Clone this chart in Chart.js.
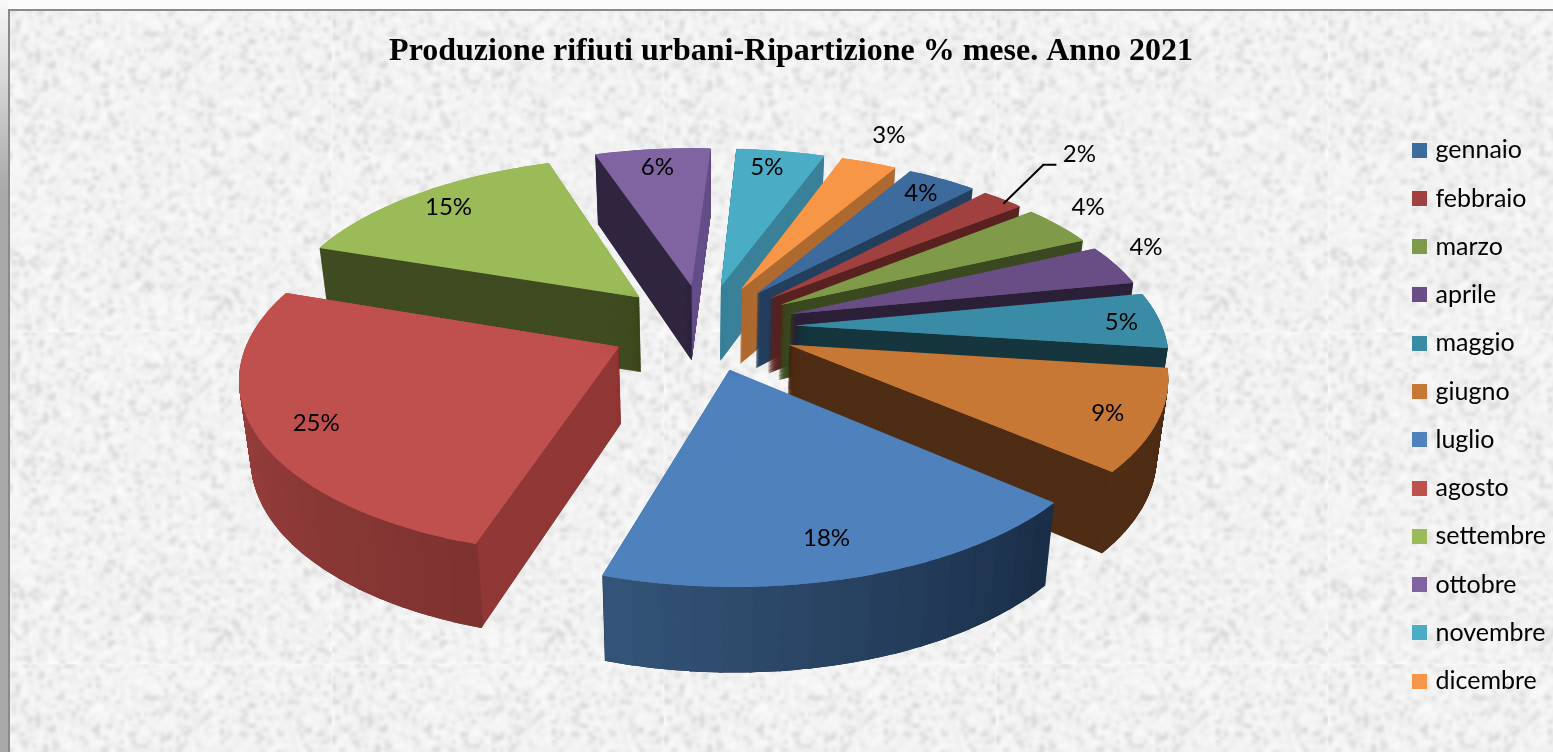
<!DOCTYPE html>
<html>
<head>
<meta charset="utf-8">
<title>Produzione rifiuti urbani</title>
<script src="https://cdn.jsdelivr.net/npm/chart.js@4/dist/chart.umd.min.js"></script>
<style>
html, body { margin: 0; padding: 0; width: 1553px; height: 752px; overflow: hidden; background: #fff; }
canvas { position: absolute; left: 0; top: 0; }
</style>
</head>
<body>
<canvas id="pie" width="1582" height="752"></canvas>
<script>
const mesi = ['gennaio', 'febbraio', 'marzo', 'aprile', 'maggio', 'giugno', 'luglio', 'agosto', 'settembre', 'ottobre', 'novembre', 'dicembre'];
const percentuali = [3.65, 2.22, 3.83, 3.8, 5.15, 9.25, 18.45, 25.45, 14.7, 6.0, 4.6, 2.9];

const topColors = ['#3E6B9D', '#A04140', '#7F9A48', '#694E85', '#3A8CA6', '#C87835', '#4F81BD', '#C0504D', '#9BBB59', '#8064A2', '#4BACC6', '#F79646'];
const wallColors = ['#25405F', '#5A2321', '#3C4A21', '#2D2139', '#17373F', '#502E16', '#1C304A', '#913836', '#404C22', '#312640', '#3A8199', '#AE6A30'];
// outer rim shading, start of the slice -> end of the slice
const rimStart = ['#25405F', '#5A2321', '#3C4A21', '#2D2139', '#17373F', '#502E16', '#1B2F49', '#7F3331', '#404C22', '#312640', '#3A8199', '#AE6A30'];
const rimEnd = ['#25405F', '#5A2321', '#3C4A21', '#2D2139', '#17373F', '#502E16', '#345478', '#A54744', '#404C22', '#312640', '#3A8199', '#AE6A30'];
const endWalls = [null, null, null, null, null, null, null, null, null, '#67508B', null, null];
// where each % label sits, measured from the tip of its slice
const labelOffsets = [[164, -100], [310, -144], [308, -98], [356, -67], [326, -3], [319, 69], [97, 169], [-303, 76], [-191, -90], [-34, -119], [46, -119], [148, -154]];

// fake 3D view of the exploded pie
const view = { cx: 703, cy: 327, rx: 367, ry: 170, persp: 0.151, explode: 0.252, depth: 76, shrink: 0.025 };
const DEG = Math.PI / 180;

function project(wx, wz, lev) {
    const f = 1 / (1 - view.persp * wz);
    const k = 1 - view.shrink * lev;
    return [view.cx + view.rx * wx * f * k, view.cy + view.ry * wz * f + view.depth * lev * (0.45 + 0.55 * f)];
}

// seeded speckle, only for the paper texture behind the chart
function makeTexture() {
    let seed = 20210;
    const rnd = () => { seed = (seed * 1664525 + 1013904223) % 4294967296; return seed / 4294967296; };
    const small = document.createElement('canvas');
    small.width = small.height = 83;
    const sctx = small.getContext('2d');
    const img = sctx.createImageData(83, 83);
    for (let i = 0; i < img.data.length; i += 4) {
        const r = rnd();
        const g = r > 0.84 ? 208 + rnd() * 24 : 236 + rnd() * 16;
        img.data[i] = img.data[i + 1] = img.data[i + 2] = g;
        img.data[i + 3] = 255;
    }
    sctx.putImageData(img, 0, 0);
    const tile = document.createElement('canvas');
    tile.width = tile.height = 332;
    const tctx = tile.getContext('2d');
    tctx.imageSmoothingEnabled = true;
    tctx.filter = 'blur(1.5px)';
    tctx.drawImage(small, 0, 0, 332, 332);
    return tile;
}

const paperPlugin = {
    id: 'paper',
    beforeDraw(chart) {
        const ctx = chart.ctx;
        ctx.save();
        ctx.fillStyle = '#FBFBFB';
        ctx.fillRect(0, 0, chart.width, chart.height);
        const strip = ctx.createLinearGradient(0, 0, 0, 190);
        strip.addColorStop(0, '#F8F8F8');
        strip.addColorStop(1, '#A9A9A9');
        ctx.fillStyle = strip;
        ctx.fillRect(0, 0, 8, chart.height);
        ctx.fillStyle = ctx.createPattern(makeTexture(), 'repeat');
        ctx.fillRect(10, 11, chart.width, chart.height);
        ctx.fillStyle = '#8A8A8A';
        ctx.fillRect(8, 9, chart.width, 2);
        ctx.fillRect(8, 9, 2, chart.height);
        ctx.restore();
    }
};

function paintPiece(ctx, arc, mid, a0, a1, lev, color, thin) {
    const r = arc.outerRadius;
    const ax = view.explode * Math.cos(mid), az = view.explode * Math.sin(mid);
    const q0 = project(ax, az, lev);
    const q1 = project(ax + Math.cos(a0), az + Math.sin(a0), lev);
    const q2 = project(ax + Math.cos(a1), az + Math.sin(a1), lev);
    // affine map that sends the flat wedge on to its projected triangle
    const ux = r * Math.cos(a0), uy = r * Math.sin(a0), vx = r * Math.cos(a1), vy = r * Math.sin(a1);
    const det = ux * vy - vx * uy;
    const px = q1[0] - q0[0], py = q1[1] - q0[1], sx = q2[0] - q0[0], sy = q2[1] - q0[1];
    const a = (px * vy - sx * uy) / det, c = (sx * ux - px * vx) / det;
    const b = (py * vy - sy * uy) / det, d = (sy * ux - py * vx) / det;
    ctx.save();
    ctx.transform(a, b, c, d, q0[0] - a * arc.x - c * arc.y, q0[1] - b * arc.x - d * arc.y);
    arc.startAngle = a0;
    arc.endAngle = a1;
    arc.circumference = a1 - a0;
    arc.innerRadius = thin ? r * 0.985 : 0;
    arc.options = Object.assign({}, arc.options, { backgroundColor: color });
    arc.draw(ctx);
    ctx.restore();
}

function mixColor(c1, c2, t) {
    const p = (c, i) => parseInt(c.substr(1 + i * 2, 2), 16);
    const out = [0, 1, 2].map(i => Math.round(p(c1, i) + (p(c2, i) - p(c1, i)) * t));
    return 'rgb(' + out.join(',') + ')';
}

function paintSlice(ctx, arc, i) {
    const start = arc.startAngle, end = arc.endAngle, saved = arc.options;
    const mid = (start + end) / 2;
    const n = Math.max(2, Math.ceil((end - start) / (4 * DEG)));
    const step = (end - start) / n, lap = 0.4 * DEG;
    const fan = (lev, colorAt, thin, shift) => {
        for (let p = 0; p < n; p++) {
            const a0 = start + (p + shift) * step;
            const a1 = Math.min(end, a0 + step + lap);
            if (a0 < end - 0.001) paintPiece(ctx, arc, mid, a0, a1, lev, colorAt(p / (n - 1)), thin);
        }
    };
    const wallLayers = 160, rimLayers = 60;
    for (let l = wallLayers; l > 0; l--) fan(l / wallLayers, () => wallColors[i], false, 0);
    for (let l = rimLayers; l > 0; l--) fan(l / rimLayers, t => mixColor(rimStart[i], rimEnd[i], t), true, 0);
    if (endWalls[i]) {
        for (let l = wallLayers; l > 0; l--) paintPiece(ctx, arc, mid, end - 0.6 * DEG, end, l / wallLayers, endWalls[i], false);
    }
    // second pass half a step along hides the seams of the first
    fan(0, () => topColors[i], false, 0);
    fan(0, () => topColors[i], false, 0.5);
    arc.startAngle = start;
    arc.endAngle = end;
    arc.circumference = end - start;
    arc.innerRadius = 0;
    arc.options = saved;
}

const pie3dPlugin = {
    id: 'pie3d',
    beforeDatasetDraw(chart, args) {
        const ctx = chart.ctx;
        const arcs = args.meta.data;
        const order = arcs.map((a, i) => i).sort((p, q) => {
            return Math.sin((arcs[p].startAngle + arcs[p].endAngle) / 2) - Math.sin((arcs[q].startAngle + arcs[q].endAngle) / 2);
        });
        order.forEach(i => paintSlice(ctx, arcs[i], i));
        return false;
    },
    afterDatasetsDraw(chart) {
        const ctx = chart.ctx;
        const arcs = chart.getDatasetMeta(0).data;
        ctx.save();
        ctx.font = '24px Lato, Carlito, sans-serif';
        ctx.fillStyle = '#000';
        ctx.textAlign = 'center';
        ctx.textBaseline = 'middle';
        arcs.forEach((arc, i) => {
            const mid = (arc.startAngle + arc.endAngle) / 2;
            const tip = project(view.explode * Math.cos(mid), view.explode * Math.sin(mid), 0);
            const x = tip[0] + labelOffsets[i][0], y = tip[1] + labelOffsets[i][1];
            ctx.fillText(Math.round(percentuali[i]) + '%', x, y);
            if (mesi[i] === 'febbraio') {
                ctx.strokeStyle = '#000';
                ctx.lineWidth = 2;
                ctx.beginPath();
                ctx.moveTo(x - 76, y + 49);
                ctx.lineTo(x - 36, y + 10);
                ctx.lineTo(x - 23, y + 10);
                ctx.stroke();
            }
        });
        ctx.restore();
    }
};

// legend swatch is a small canvas so it can sit closer to its text
function swatch(color) {
    const c = document.createElement('canvas');
    c.width = c.height = 15;
    const sctx = c.getContext('2d');
    sctx.fillStyle = color;
    sctx.fillRect(0, 0, 15, 15);
    return c;
}

new Chart(document.getElementById('pie').getContext('2d'), {
    type: 'pie',
    data: {
        labels: mesi,
        datasets: [{
            data: percentuali,
            backgroundColor: topColors,
            borderWidth: 0,
            clip: false
        }]
    },
    options: {
        responsive: false,
        animation: false,
        rotation: 30.28,
        layout: { padding: { top: 0, right: 26, bottom: 0, left: 26 } },
        plugins: {
            tooltip: { enabled: false },
            title: {
                display: true,
                text: 'Produzione rifiuti urbani-Ripartizione % mese. Anno 2021',
                color: '#000',
                font: { family: '"Liberation Serif", serif', size: 32, weight: 'bold' },
                padding: { top: 33, bottom: 43 }
            },
            legend: {
                position: 'right',
                align: 'start',
                fullSize: false,
                labels: {
                    color: '#000',
                    usePointStyle: true,
                    pointStyleWidth: 7,
                    boxHeight: 15,
                    padding: 23.27,
                    font: { family: 'Lato, Carlito, sans-serif', size: 25 },
                    generateLabels(chart) {
                        const items = Chart.overrides.pie.plugins.legend.labels.generateLabels(chart);
                        return items.map((it, i) => Object.assign(it, { pointStyle: swatch(topColors[i]) }));
                    }
                }
            }
        }
    },
    plugins: [paperPlugin, pie3dPlugin]
});
</script>
</body>
</html>
